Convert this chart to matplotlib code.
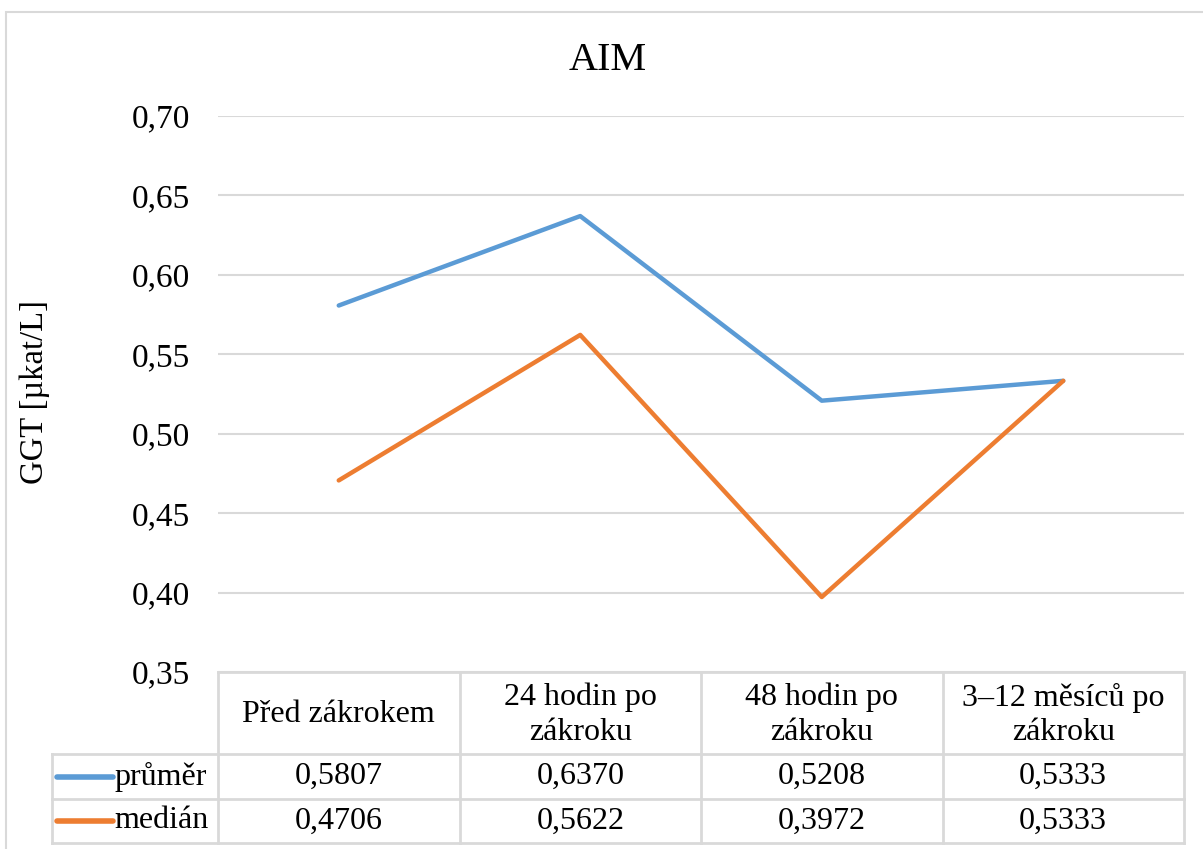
import matplotlib.pyplot as plt
from matplotlib.patches import Rectangle
from matplotlib.lines import Line2D

plt.rcParams['font.family'] = ['Liberation Serif', 'DejaVu Serif']

categories = ['Před zákrokem', '24 hodin po\nzákroku', '48 hodin po\nzákroku', '3–12 měsíců po\nzákroku']
prumer = [0.5807, 0.6370, 0.5208, 0.5333]
median = [0.4706, 0.5622, 0.3972, 0.5333]
series_names = ['průměr', 'medián']
yticks = [0.35, 0.40, 0.45, 0.50, 0.55, 0.60, 0.65, 0.70]

W, H = 1203, 849
BLUE = '#5B9BD5'
ORANGE = '#ED7D31'
GRID = '#D9D9D9'

fig = plt.figure(figsize=(W / 100, H / 100), dpi=100)

def px(x0, y0, x1, y1):
    # pixel box (top-left origin) -> figure fraction rect
    return [x0 / W, 1 - y1 / H, (x1 - x0) / W, (y1 - y0) / H]

# chart frame
fig.patches.append(Rectangle((6 / W, -0.1), 1.2, 1 - 12 / H + 0.1, transform=fig.transFigure,
                             fill=False, edgecolor=GRID, lw=1.5))

plot_l, plot_r, plot_t, plot_b = 218, 1184, 116, 672
ax = fig.add_axes(px(plot_l, plot_t, plot_r, plot_b))
xs = [i + 0.5 for i in range(len(categories))]
ax.plot(xs, prumer, color=BLUE, lw=3.2, solid_capstyle='round')
ax.plot(xs, median, color=ORANGE, lw=3.2, solid_capstyle='round')
ax.set_xlim(0, len(categories))
ax.set_ylim(0.35, 0.70)
ax.set_yticks(yticks)
ax.set_yticklabels([f'{t:.2f}'.replace('.', ',') for t in yticks], fontsize=24)
ax.set_xticks([])
ax.tick_params(axis='y', length=0, pad=20)
for s in ax.spines.values():
    s.set_visible(False)
ax.yaxis.grid(True, color=GRID, lw=1.5)
ax.set_axisbelow(True)

fig.text(35 / W, 1 - 392 / H, 'GGT [µkat/L]', rotation=90, ha='center', va='center', fontsize=23.5)
fig.text(608 / W, 1 - 60 / H, 'AIM', ha='center', va='center', fontsize=29)

# data table under the plot
cw = (plot_r - plot_l) / len(categories)
lab_l = 52
row_y = [672, 754, 799, 843]
tax = fig.add_axes(px(lab_l, row_y[0], plot_r, row_y[-1]))
tax.set_xlim(-(plot_l - lab_l) / cw, len(categories))
tax.set_ylim(row_y[-1], row_y[0])
tax.axis('off')
lc = dict(color=GRID, lw=2, clip_on=False)
x_left = tax.get_xlim()[0]
n = len(categories)
tax.plot([0, n], [row_y[0]] * 2, **lc)
for y in row_y[1:]:
    tax.plot([x_left, n], [y, y], **lc)
for i in range(n + 1):
    tax.plot([i, i], [row_y[0], row_y[-1]], **lc)
tax.plot([x_left, x_left], [row_y[1], row_y[-1]], **lc)

for i, c in enumerate(categories):
    tax.text(i + 0.5, (row_y[0] + row_y[1]) / 2 + 2, c, ha='center', va='center',
             fontsize=23, linespacing=1.25)

for r, (name, vals, col) in enumerate(zip(series_names, [prumer, median], [BLUE, ORANGE])):
    yc = (row_y[r + 1] + row_y[r + 2]) / 2
    x0 = x_left + 5 / cw
    x1 = x_left + 61 / cw
    tax.add_line(Line2D([x0, x1], [yc, yc], color=col, lw=4, solid_capstyle='round'))
    tax.text(x1 + 1 / cw, yc, name, ha='left', va='center', fontsize=23)
    for i, v in enumerate(vals):
        tax.text(i + 0.5, yc, f'{v:.4f}'.replace('.', ','), ha='center', va='center', fontsize=23)

fig.savefig('out.png', dpi=100)
